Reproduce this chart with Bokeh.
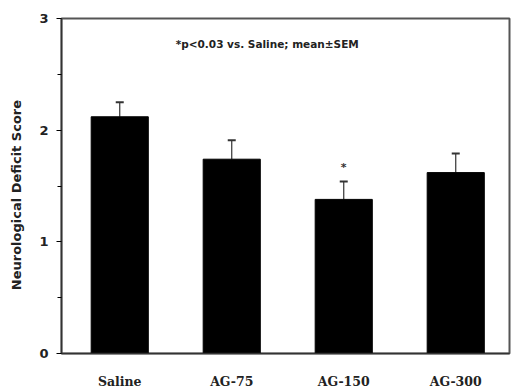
from bokeh.plotting import figure
from bokeh.models import FixedTicker, Range1d, ColumnDataSource, Whisker, TeeHead
from bokeh.core.properties import value
from bokeh.embed import file_html
from bokeh.resources import INLINE

categories = ["Saline", "AG-75", "AG-150", "AG-300"]
means = [2.12, 1.74, 1.38, 1.62]
sem = [0.13, 0.17, 0.16, 0.17]
y_ticks = [0, 1, 2, 3]
note = "*p<0.03 vs. Saline; mean\u00b1SEM"
sig_marks = ["", "", "*", ""]

xs = list(range(len(categories)))
upper = [m + s for m, s in zip(means, sem)]

x0, x1, y0, y1 = -0.52, 3.48, 0, 3

p = figure(width=511, height=391, output_backend="svg", toolbar_location=None,
           x_range=Range1d(x0, x1), y_range=Range1d(y0, y1),
           min_border_left=61, min_border_top=18, min_border_right=2, min_border_bottom=37)
p.background_fill_color = "white"
p.border_fill_color = "white"
p.xgrid.visible = False
p.ygrid.visible = False
p.outline_line_color = "#555555"
p.outline_line_width = 2

src = ColumnDataSource(dict(x=xs, top=means, upper=upper, sig=sig_marks,
                            sig_y=[u + 0.13 for u in upper]))
p.vbar(x="x", top="top", width=0.51, source=src, fill_color="black", line_color="black")

w = Whisker(base="x", lower="top", upper="upper", source=src,
            line_color="#333333", line_width=1.2,
            upper_head=TeeHead(size=8, line_color="#333333", line_width=2),
            lower_head=None)
p.add_layout(w)

p.text(x="x", y="sig_y", text="sig", source=src, text_align="center", text_baseline="middle",
       text_font=value("DejaVu Sans"), text_font_size="11px", text_font_style="bold", text_color="#333333")

p.text(x=[0.5], y=[2.775], text=[note], text_align="left", text_baseline="middle",
       text_font=value("DejaVu Sans"), text_font_size="10.5px", text_font_style="bold", text_color="#222222")

ya = p.yaxis[0]
ya.ticker = FixedTicker(ticks=y_ticks, minor_ticks=[0.5, 1.5, 2.5])
ya.axis_label = "Neurological   Deficit   Score"
ya.axis_label_text_font = "DejaVu Sans"
ya.axis_label_text_font_style = "bold"
ya.axis_label_text_font_size = "13px"
ya.axis_label_text_color = "#222222"
ya.axis_label_standoff = 12
ya.major_label_text_font = "DejaVu Sans"
ya.major_label_text_font_style = "bold"
ya.major_label_text_font_size = "13px"
ya.major_label_text_color = "#222222"
ya.major_label_standoff = 8
ya.major_tick_out = 5
ya.major_tick_in = 0
ya.minor_tick_out = 4
ya.minor_tick_in = 0
ya.axis_line_color = "#333333"
ya.axis_line_width = 1.5

xa = p.xaxis[0]
xa.ticker = FixedTicker(ticks=xs)
xa.major_label_overrides = {i: c for i, c in zip(xs, categories)}
xa.major_label_text_font = "DejaVu Serif"
xa.major_label_text_font_style = "bold"
xa.major_label_text_font_size = "12.5px"
xa.major_label_text_color = "#222222"
xa.major_label_standoff = 20
xa.major_tick_out = 0
xa.major_tick_in = 0
xa.minor_tick_out = 0
xa.minor_tick_in = 0
xa.axis_line_color = "#333333"
xa.axis_line_width = 1.5

open("out.html", "w").write(file_html(p, INLINE))
